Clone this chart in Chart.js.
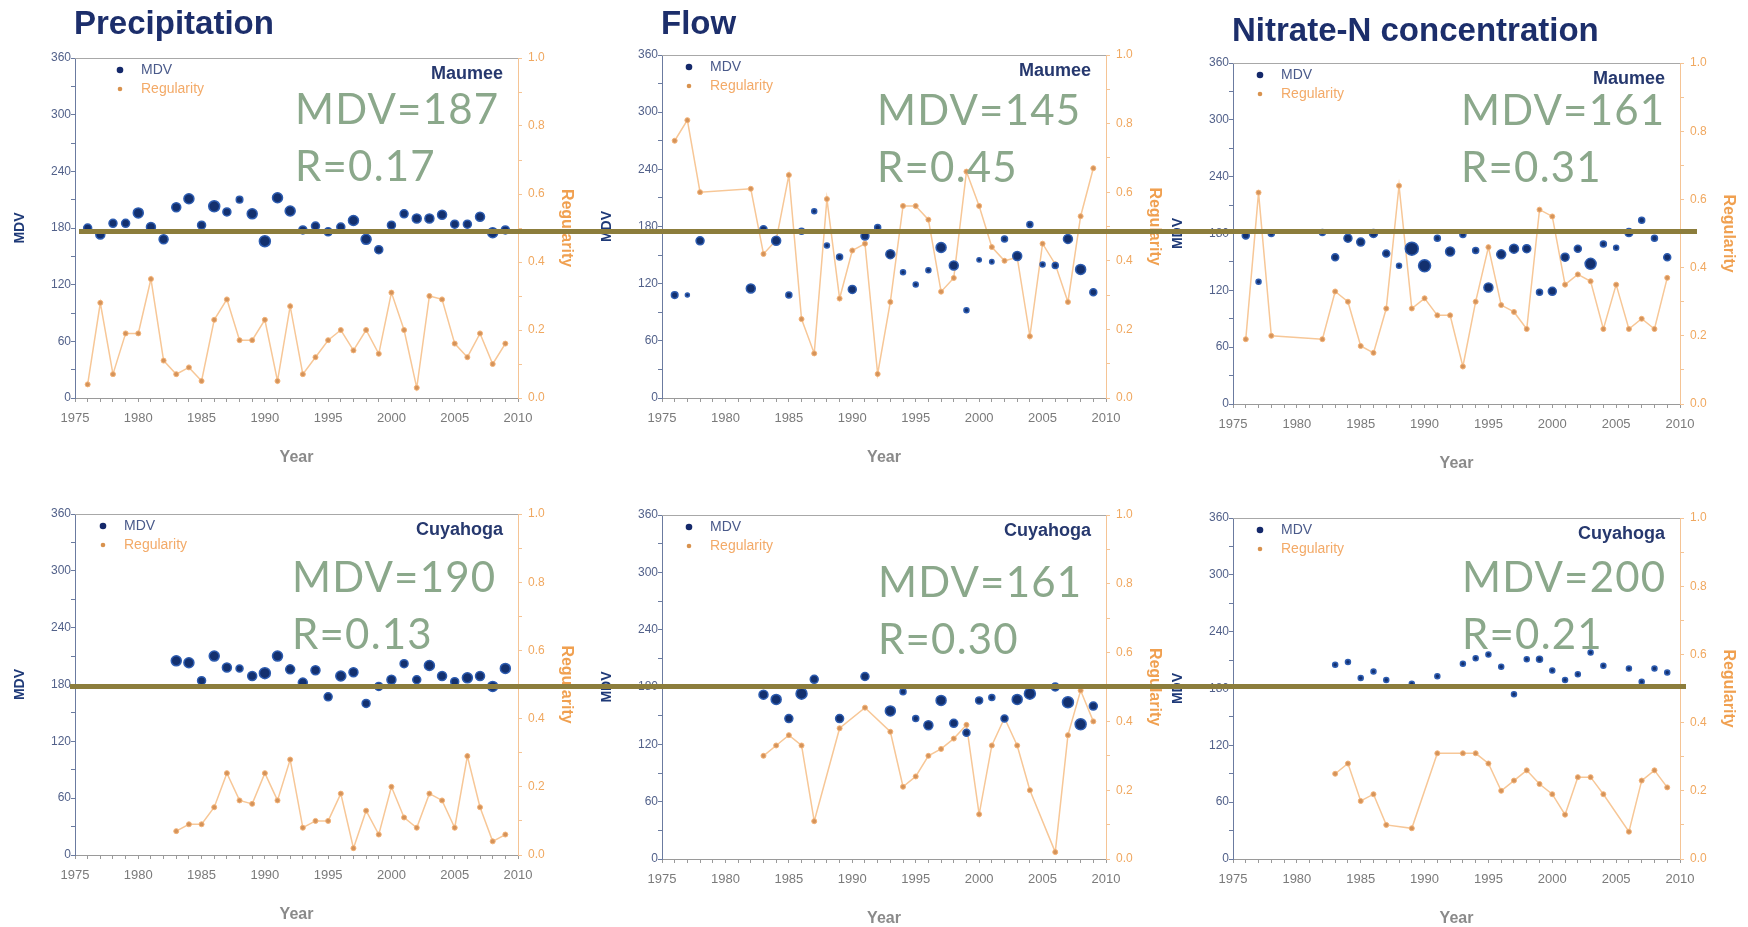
<!DOCTYPE html>
<html>
<head>
<meta charset="utf-8">
<script src="https://cdn.jsdelivr.net/npm/chart.js@4.4.0/dist/chart.umd.min.js"></script>
<style>
  body { margin: 0; background: #fff; width: 1748px; height: 927px; overflow: hidden; position: relative; font-family: "Liberation Sans", Arial, sans-serif; }
  .panel { position: absolute; }
  .note { position: absolute; font-family: Lato, sans-serif; font-size: 42px; letter-spacing: 1.2px; line-height: 57px; color: #8ba88b; white-space: pre; z-index: 5; }
  .rule { position: absolute; height: 5px; background: #8c7d3c; z-index: 6; }
</style>
</head>
<body>
<script>
// ---- data ----
const precipMaumeeYears = [1976,1977,1978,1979,1980,1981,1982,1983,1984,1985,1986,1987,1988,1989,1990,1991,1992,1993,1994,1995,1996,1997,1998,1999,2000,2001,2002,2003,2004,2005,2006,2007,2008,2009];
const precipMaumeeMdv = [180,173,185,185,196,181,168,202,211,183,203,197,210,195,166,212,198,178,182,176,181,188,168,157,183,195,190,190,194,184,184,192,175,178];
const precipMaumeeSize = [4,4.5,4,4,5,4.5,4.5,4.5,5,4,5.5,4,3.3,5,5.5,5,5,4,4,4,4,5,5,4,4,4,4.5,4.5,4.5,4,4,4.5,5,4];
const precipMaumeeReg = [0.04,0.28,0.07,0.19,0.19,0.35,0.11,0.07,0.09,0.05,0.23,0.29,0.17,0.17,0.23,0.05,0.27,0.07,0.12,0.17,0.20,0.14,0.20,0.13,0.31,0.20,0.03,0.30,0.29,0.16,0.12,0.19,0.10,0.16];

const flowMaumeeYears = [1976,1977,1978,1982,1983,1984,1985,1986,1987,1988,1989,1990,1991,1992,1993,1994,1995,1996,1997,1998,1999,2000,2001,2002,2003,2004,2005,2006,2007,2008,2009];
const flowMaumeeMdv = [108,108,165,115,177,165,108,175,196,160,148,114,170,179,151,132,119,134,158,139,92,145,143,167,149,182,140,139,167,135,111];
const flowMaumeeSize = [3.3,2,4,4.5,3.5,4.5,3,3,2.5,2.5,3,4,4,3,4.5,2.5,2.5,2.5,5,4.5,2.5,2.2,2.2,3,4.5,3,2.5,3,4.5,5,3.5];
const flowMaumeeReg = [0.75,0.81,0.60,0.61,0.42,0.46,0.65,0.23,0.13,0.58,0.29,0.43,0.45,0.07,0.28,0.56,0.56,0.52,0.31,0.35,0.66,0.56,0.44,0.40,0.41,0.18,0.45,0.39,0.28,0.53,0.67];

const nitrateMaumeeYears = [1976,1977,1978,1982,1983,1984,1985,1986,1987,1988,1989,1990,1991,1992,1993,1994,1995,1996,1997,1998,1999,2000,2001,2002,2003,2004,2005,2006,2007,2008,2009];
const nitrateMaumeeMdv = [178,129,180,181,155,175,171,180,159,146,164,146,175,161,179,162,123,158,164,164,118,119,155,164,148,169,165,181,194,175,155];
const nitrateMaumeeSize = [3.5,2.5,3,3,3.5,4,4,4,3.5,2.5,6.5,6,3,4.5,3,3,4.5,4.5,4.5,4,3,4,4,3.5,5.5,3,2.5,4,3,3,3.5];
const nitrateMaumeeReg = [0.19,0.62,0.20,0.19,0.33,0.30,0.17,0.15,0.28,0.64,0.28,0.31,0.26,0.26,0.11,0.30,0.46,0.29,0.27,0.22,0.57,0.55,0.35,0.38,0.36,0.22,0.35,0.22,0.25,0.22,0.37];

const precipCuyYears = [1983,1984,1985,1986,1987,1988,1989,1990,1991,1992,1993,1994,1995,1996,1997,1998,1999,2000,2001,2002,2003,2004,2005,2006,2007,2008,2009];
const precipCuyMdv = [205,203,184,210,198,197,189,192,210,196,182,195,167,189,193,160,178,185,202,185,200,189,183,187,189,178,197];
const precipCuySize = [5,5,4,5,4.5,3.5,4.5,5.5,5,4.5,4.5,4.5,4,5,4.5,4,4,4.5,4,4,5,4.5,4,5,4.5,5,5];
const precipCuyReg = [0.07,0.09,0.09,0.14,0.24,0.16,0.15,0.24,0.16,0.28,0.08,0.10,0.10,0.18,0.02,0.13,0.06,0.20,0.11,0.08,0.18,0.16,0.08,0.29,0.14,0.04,0.06];

const flowCuyYears = [1983,1984,1985,1986,1987,1989,1991,1993,1994,1995,1996,1997,1998,1999,2000,2001,2002,2003,2004,2006,2007,2008,2009];
const flowCuyMdv = [172,167,147,173,188,147,191,155,175,147,140,166,142,132,166,169,147,167,173,180,164,141,160];
const flowCuySize = [4.5,5,4,5.5,4,4,4,5,3,3,4.5,5,4,3.5,3.5,3,3.5,5,5.5,4,5.5,5.5,4];
const flowCuyReg = [0.30,0.33,0.36,0.33,0.11,0.38,0.44,0.37,0.21,0.24,0.30,0.32,0.35,0.39,0.13,0.33,0.41,0.33,0.20,0.02,0.36,0.49,0.40];

const nitrateCuyYears = [1983,1984,1985,1986,1987,1989,1991,1993,1994,1995,1996,1997,1998,1999,2000,2001,2002,2003,2004,2006,2007,2008,2009];
const nitrateCuyMdv = [205,208,191,198,189,185,193,206,212,216,203,174,211,211,199,189,195,218,204,201,187,201,197];
const nitrateCuySize = [2.5,2.5,2.5,2.5,2.5,2.5,2.5,2.5,2.5,2.5,2.5,2.5,2.5,3,2.5,2.5,2.5,2.5,2.5,2.5,2.5,2.5,2.5];
const nitrateCuyReg = [0.25,0.28,0.17,0.19,0.10,0.09,0.31,0.31,0.31,0.28,0.20,0.23,0.26,0.22,0.19,0.13,0.24,0.24,0.19,0.08,0.23,0.26,0.21];

const YEAR_TICKS = [1975, 2010];
const MDV_RANGE = [0, 360];
const REG_RANGE = [0, 1];

// ---- layout of the six panels (plot box in page pixels) ----
const panels = [
  { L: 75, R: 518, T: 58, B: 398, top: 0, title: 'Precipitation', titleY: 25, river: 'Maumee', legendDx: 45,
    note: 'MDV=187\nR=0.17', noteX: 295, noteY: 95, data: [precipMaumeeYears, precipMaumeeMdv, precipMaumeeSize, precipMaumeeReg] },
  { L: 662, R: 1106, T: 55, B: 398, top: 0, title: 'Flow', titleY: 25, river: 'Maumee', legendDx: 27,
    note: 'MDV=145\nR=0.45', noteX: 877, noteY: 96, data: [flowMaumeeYears, flowMaumeeMdv, flowMaumeeSize, flowMaumeeReg] },
  { L: 1233, R: 1680, T: 63, B: 404, top: 0, title: 'Nitrate-N concentration', titleY: 32, river: 'Maumee', legendDx: 27,
    note: 'MDV=161\nR=0.31', noteX: 1461, noteY: 96, data: [nitrateMaumeeYears, nitrateMaumeeMdv, nitrateMaumeeSize, nitrateMaumeeReg] },
  { L: 75, R: 518, T: 514, B: 855, top: 474, title: '', river: 'Cuyahoga', legendDx: 28,
    note: 'MDV=190\nR=0.13', noteX: 292, noteY: 563, data: [precipCuyYears, precipCuyMdv, precipCuySize, precipCuyReg] },
  { L: 662, R: 1106, T: 515, B: 859, top: 475, title: '', river: 'Cuyahoga', legendDx: 27,
    note: 'MDV=161\nR=0.30', noteX: 878, noteY: 568, data: [flowCuyYears, flowCuyMdv, flowCuySize, flowCuyReg] },
  { L: 1233, R: 1680, T: 518, B: 859, top: 478, title: '', river: 'Cuyahoga', legendDx: 27,
    note: 'MDV=200\nR=0.21', noteX: 1462, noteY: 563, data: [nitrateCuyYears, nitrateCuyMdv, nitrateCuySize, nitrateCuyReg] },
];

const NAVY = '#1c2e6b';
const ORANGE = '#f0a050';

const panelDecor = {
  id: 'panelDecor',
  afterDraw(chart, args, o) {
    const { ctx, chartArea: a } = chart;
    ctx.save();
    ctx.strokeStyle = '#a8a8a8';
    ctx.lineWidth = 1;
    ctx.beginPath();
    ctx.moveTo(a.left, a.top + 0.5);
    ctx.lineTo(a.right, a.top + 0.5);
    ctx.stroke();
    ctx.textBaseline = 'middle';
    if (o.title) {
      ctx.font = 'bold 33px "Liberation Sans"';
      ctx.fillStyle = NAVY;
      ctx.textAlign = 'left';
      ctx.fillText(o.title, a.left - 1, o.titleY);
    }
    // legend
    const lx = a.left + o.legendDx;
    ctx.fillStyle = '#14286a';
    ctx.beginPath(); ctx.arc(lx, a.top + 12, 3.3, 0, Math.PI * 2); ctx.fill();
    ctx.fillStyle = '#d8924e';
    ctx.beginPath(); ctx.arc(lx, a.top + 31, 2.3, 0, Math.PI * 2); ctx.fill();
    ctx.font = '14px "Liberation Sans"';
    ctx.textAlign = 'left';
    ctx.fillStyle = '#4a5a8a';
    ctx.fillText('MDV', lx + 21, a.top + 12);
    ctx.fillStyle = '#f3aa68';
    ctx.fillText('Regularity', lx + 21, a.top + 31);
    // river
    ctx.font = 'bold 18px "Liberation Sans"';
    ctx.textAlign = 'right';
    ctx.fillStyle = '#26386e';
    ctx.fillText(o.river, a.right - 15, a.top + 16);
    ctx.restore();
  }
};

function buildPanel(p) {
  const [years, mdv, size, reg] = p.data;
  const padTop = p.T - p.top;
  const w = p.R - p.L + 140;
  const h = padTop + (p.B - p.T) + 70;
  const box = document.createElement('div');
  box.className = 'panel';
  box.style.left = (p.L - 75) + 'px';
  box.style.top = p.top + 'px';
  const canvas = document.createElement('canvas');
  canvas.width = w;
  canvas.height = h;
  box.appendChild(canvas);
  document.body.appendChild(box);

  new Chart(canvas, {
    type: 'scatter',
    data: {
      datasets: [
        {
          label: 'MDV',
          data: years.map((x, i) => ({ x, y: mdv[i] })),
          yAxisID: 'y',
          pointRadius: size,
          backgroundColor: '#13306e',
          borderColor: '#2d5cb0',
          borderWidth: 1.5,
        },
        {
          label: 'Regularity',
          type: 'line',
          data: years.map((x, i) => ({ x, y: reg[i] })),
          yAxisID: 'y2',
          showLine: true,
          borderColor: '#f7c797',
          borderWidth: 1.5,
          pointRadius: 2.5,
          pointBackgroundColor: '#d4935a',
          pointBorderColor: '#f3b277',
          pointBorderWidth: 1,
          tension: 0,
        }
      ]
    },
    options: {
      responsive: false,
      animation: false,
      devicePixelRatio: 1,
      layout: { padding: { top: padTop, left: 0, right: 0, bottom: 0 } },
      plugins: {
        legend: { display: false },
        tooltip: { enabled: false },
        panelDecor: { title: p.title, titleY: p.titleY, river: p.river, legendDx: p.legendDx },
      },
      scales: {
        x: {
          type: 'linear',
          min: YEAR_TICKS[0],
          max: YEAR_TICKS[1],
          afterFit: s => { s.height = 70; },
          ticks: {
            stepSize: 1, autoSkip: false, maxRotation: 0, padding: 9,
            color: '#7a7a7a', font: { size: 13 },
            callback: v => (v % 5 === 0 ? String(v) : ''),
          },
          grid: { drawOnChartArea: false, tickLength: 4, tickColor: '#9a9a9a' },
          border: { color: '#9a9a9a' },
          title: { display: true, text: 'Year', color: '#8a8a8a', font: { size: 16, weight: 'bold' }, padding: { top: 4, bottom: 1 } },
        },
        y: {
          position: 'left',
          min: MDV_RANGE[0],
          max: MDV_RANGE[1],
          afterFit: s => { s.width = 75; },
          ticks: {
            stepSize: 30, padding: 0, color: '#52618a', font: { size: 12 },
            callback: v => (v % 60 === 0 ? String(v) : ''),
          },
          grid: { drawOnChartArea: false, tickLength: 4, tickColor: '#6b7ba0' },
          border: { color: '#6b7ba0' },
          title: { display: true, text: 'MDV', color: '#1f3a78', font: { size: 14, weight: 'bold' }, padding: { top: 12, bottom: 0 } },
        },
        y2: {
          position: 'right',
          min: REG_RANGE[0],
          max: REG_RANGE[1],
          afterFit: s => { s.width = 65; },
          ticks: {
            stepSize: 0.1, padding: 6, color: '#f0a860', font: { size: 12 },
            callback: v => (Math.round(v * 10) % 2 === 0 ? v.toFixed(1) : ''),
          },
          grid: { drawOnChartArea: false, tickLength: 4, tickColor: '#f5c495' },
          border: { color: '#f5c495' },
          title: { display: true, text: 'Regularity', color: ORANGE, font: { size: 16, weight: 'bold' }, padding: { top: 7, bottom: 0 } },
        },
      },
    },
    plugins: [panelDecor],
  });

  const note = document.createElement('div');
  note.className = 'note';
  note.style.left = p.noteX + 'px';
  note.style.top = (p.noteY - 15) + 'px';
  note.textContent = p.note;
  document.body.appendChild(note);
}

panels.forEach(buildPanel);

// olive reference lines across each row
[[79, 1697, 229], [70, 1686, 684]].forEach(([x0, x1, y]) => {
  const r = document.createElement('div');
  r.className = 'rule';
  r.style.left = x0 + 'px';
  r.style.width = (x1 - x0) + 'px';
  r.style.top = y + 'px';
  document.body.appendChild(r);
});
</script>
</body>
</html>
